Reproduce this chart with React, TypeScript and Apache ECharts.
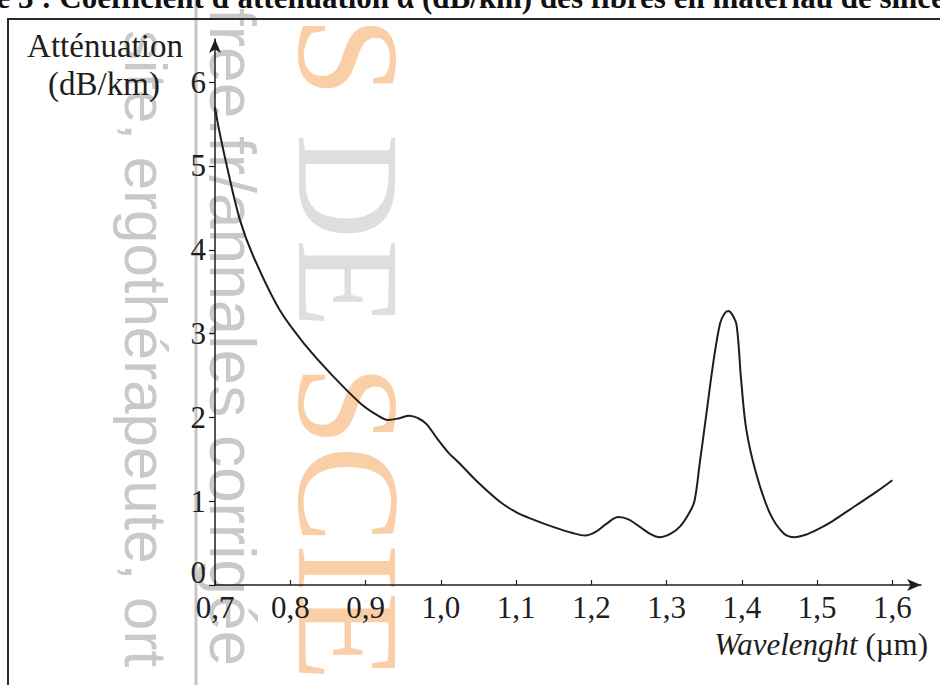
import React, { useEffect, useRef } from "react";
import * as echarts from "echarts";

const wavelengths = [
  0.7, 0.705, 0.715, 0.733, 0.751, 0.786, 0.822, 0.857, 0.893, 0.915, 0.93, 0.945, 0.958, 0.97,
  0.981, 0.995, 1.01, 1.025, 1.05, 1.079, 1.1, 1.123, 1.15, 1.175, 1.192, 1.205, 1.22, 1.236,
  1.25, 1.265, 1.28, 1.29, 1.305, 1.318, 1.33, 1.337, 1.344, 1.353, 1.362, 1.371, 1.377, 1.382,
  1.387, 1.393, 1.399, 1.406, 1.419, 1.437, 1.455, 1.47, 1.485, 1.5, 1.52, 1.55, 1.58, 1.6,
];
const attenuation = [
  5.7, 5.45, 5.03, 4.36, 3.92, 3.28, 2.84, 2.49, 2.17, 2.03, 1.97, 1.99, 2.02, 1.99,
  1.92, 1.75, 1.58, 1.45, 1.22, 0.99, 0.87, 0.78, 0.69, 0.62, 0.59, 0.63, 0.73, 0.81,
  0.78, 0.69, 0.6, 0.57, 0.61, 0.7, 0.86, 1.0, 1.45, 2.05, 2.65, 3.12, 3.24, 3.27,
  3.23, 3.1, 2.45, 1.85, 1.33, 0.86, 0.62, 0.57, 0.6, 0.66, 0.76, 0.94, 1.12, 1.25,
];
const xTickValues = [0.7, 0.8, 0.9, 1.0, 1.1, 1.2, 1.3, 1.4, 1.5, 1.6];
const yTickValues = [0, 1, 2, 3, 4, 5, 6];

const SERIF = '"Liberation Serif", "Times New Roman", serif';
const SANS = '"Liberation Sans", Arial, sans-serif';
const INK = "#1e1e1e";

export default function App() {
  const ref = useRef<HTMLDivElement>(null);
  useEffect(() => {
    if (!ref.current) return;
    const chart = echarts.init(ref.current, null, { renderer: "svg" });
    const data = wavelengths.map((w, i) => [w, attenuation[i]]);
    chart.setOption({
      animation: false,
      backgroundColor: "#ffffff",
      grid: { left: 215, right: 19, top: 39, bottom: 100, containLabel: false, outerBoundsMode: "none" },
      xAxis: {
        type: "value",
        min: 0.7,
        max: 1.638,
        axisLine: {
          show: true,
          onZero: false,
          symbol: ["none", "arrow"],
          symbolSize: [9, 14],
          lineStyle: { color: INK, width: 1.5 },
        },
        axisTick: { show: true, inside: true, length: 5, customValues: xTickValues, lineStyle: { color: INK, width: 1.2 } },
        axisLabel: {
          customValues: xTickValues,
          formatter: (v: number) => v.toFixed(1).replace(".", ","),
          margin: 7,
          fontFamily: SERIF,
          fontSize: 31,
          color: INK,
        },
        splitLine: { show: false },
        name: "{i|Wavelenght} (µm)",
        nameLocation: "end",
        nameGap: 7,
        nameTextStyle: {
          align: "right",
          verticalAlign: "top",
          padding: [44, 0, 0, 0],
          fontFamily: SERIF,
          fontSize: 31,
          color: INK,
          rich: { i: { fontStyle: "italic", fontFamily: SERIF, fontSize: 31, color: INK } },
        },
      },
      yAxis: {
        type: "value",
        min: 0,
        max: 6.515,
        axisLine: {
          show: true,
          onZero: false,
          symbol: ["none", "arrow"],
          symbolSize: [9, 14],
          lineStyle: { color: INK, width: 1.5 },
        },
        axisTick: { show: true, inside: false, length: 6, customValues: yTickValues, lineStyle: { color: INK, width: 1.2 } },
        axisLabel: {
          customValues: yTickValues,
          formatter: (v: number) => (v === 0 ? "{z|0}" : String(v)),
          margin: 9,
          fontFamily: SERIF,
          fontSize: 31,
          color: INK,
          rich: { z: { fontFamily: SERIF, fontSize: 31, color: INK, padding: [0, 0, 26, 0] } },
        },
        splitLine: { show: false },
      },
      graphic: [
        {
          type: "text",
          x: 145,
          y: 30,
          rotation: -Math.PI / 2,
          z: 0,
          style: {
            text: "site, ergothérapeute, ort",
            font: `60px ${SANS}`,
            fill: "#c9c9c9",
            textAlign: "left",
            textVerticalAlign: "middle",
          },
        },
        {
          type: "text",
          x: 232,
          y: 8,
          rotation: -Math.PI / 2,
          z: 0,
          style: {
            text: "free.fr/annales corrigée",
            font: `64px ${SANS}`,
            fill: "#c9c9c9",
            textAlign: "left",
            textVerticalAlign: "middle",
          },
        },
        {
          type: "line",
          z: 0,
          shape: { x1: 196, y1: 0, x2: 196, y2: 685 },
          style: { stroke: "#c6c6c6", lineWidth: 3 },
        },
        {
          type: "text",
          x: 348,
          y: 16,
          rotation: -Math.PI / 2,
          z: 0,
          style: {
            text: "{o|S} {g|DE} {o|SCIE}",
            font: `146px ${SERIF}`,
            textAlign: "left",
            textVerticalAlign: "middle",
            rich: {
              o: { fill: "#facfa8", font: `146px ${SERIF}` },
              g: { fill: "#dedede", font: `146px ${SERIF}` },
            },
          },
        },
        {
          type: "rect",
          z: 1,
          shape: { x: 8, y: 19, width: 1300, height: 1000 },
          style: { fill: "none", stroke: "#2a2a2a", lineWidth: 2 },
        },
        {
          type: "text",
          x: -77,
          y: -3,
          z: 1,
          style: {
            text: "Figure 3 : Coefficient d'atténuation α (dB/km) des fibres en matériau de silice",
            font: `bold 31px ${SERIF}`,
            fill: "#111111",
            textAlign: "left",
            textVerticalAlign: "middle",
          },
        },
        {
          type: "text",
          x: 105,
          y: 46,
          z: 3,
          style: {
            text: "Atténuation",
            font: `33px ${SERIF}`,
            fill: INK,
            textAlign: "center",
            textVerticalAlign: "middle",
          },
        },
        {
          type: "text",
          x: 104,
          y: 84,
          z: 3,
          style: {
            text: "(dB/km)",
            font: `33px ${SERIF}`,
            fill: INK,
            textAlign: "center",
            textVerticalAlign: "middle",
          },
        },
      ],
      series: [
        {
          type: "line",
          data,
          z: 5,
          smooth: 0.35,
          showSymbol: false,
          symbol: "none",
          lineStyle: { color: INK, width: 2 },
        },
      ],
    });
    return () => chart.dispose();
  }, []);
  return (
    <div
      ref={ref}
      style={{ position: "fixed", left: 0, top: 0, width: 940, height: 685, background: "#fff" }}
    />
  );
}
